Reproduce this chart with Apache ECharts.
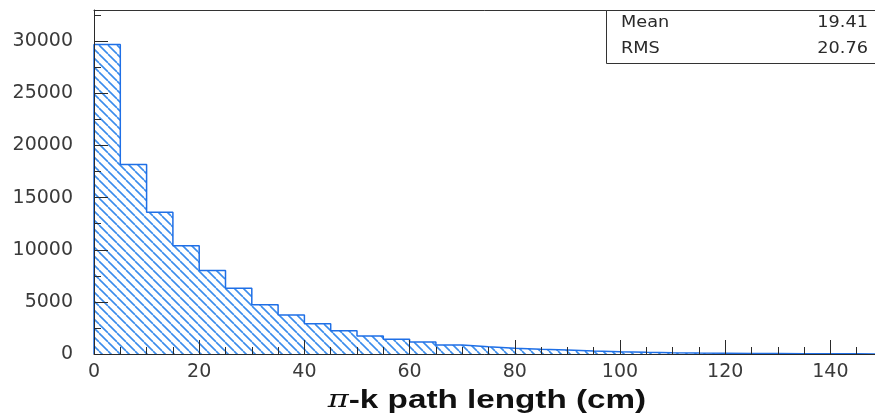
<!DOCTYPE html>
<html>
<head>
<meta charset="utf-8">
<script src="https://cdn.jsdelivr.net/npm/echarts@6/dist/echarts.min.js"></script>
<style>
  html, body { margin: 0; padding: 0; background: #fff; }
  #chart { width: 875px; height: 418px; }
</style>
</head>
<body>
<div id="chart"></div>
<script>
// Histogram of pi-k path length, 5 cm bins starting at 0
const binWidth = 5;
const binCounts = [
  29700, 18170, 13590, 10390, 8010, 6310, 4720, 3750, 2890, 2240,
  1730, 1410, 1150, 870, 700, 550, 450, 380, 290, 220,
  160, 120, 90, 70, 50, 40, 30, 20, 15, 10
];
const xTicks = [0, 20, 40, 60, 80, 100, 120, 140];
const yTicks = [0, 5000, 10000, 15000, 20000, 25000, 30000];
const statLabels = ['Mean', 'RMS'];
const statValues = ['19.41', '20.76'];
const xTitle = '-k path length (cm)';

const xMax = 150;
const yMax = 33000;

// Step outline points: rise at 0, then one point per bin edge
const stepPoints = [[0, 0]];
binCounts.forEach((c, i) => stepPoints.push([i * binWidth, c]));
stepPoints.push([binCounts.length * binWidth, binCounts[binCounts.length - 1]]);

// Diagonal hatch tile
function hatchTile() {
  const s = 9;
  const cv = document.createElement('canvas');
  cv.width = s; cv.height = s;
  const ctx = cv.getContext('2d');
  ctx.fillStyle = '#ffffff';
  ctx.fillRect(0, 0, s, s);
  ctx.strokeStyle = '#3a8cec';
  ctx.lineWidth = 1.6;
  for (let k = -1; k <= 1; k++) {
    ctx.beginPath();
    ctx.moveTo(k * s, 0);
    ctx.lineTo(k * s + s, s);
    ctx.stroke();
  }
  return cv;
}

const tickColor = '#2a2a2a';
const labelFont = 'DejaVu Sans';

const chart = echarts.init(document.getElementById('chart'), null, { renderer: 'canvas' });

chart.setOption({
  animation: false,
  backgroundColor: '#ffffff',
  grid: { left: 94, top: 10, right: -8, bottom: 64, containLabel: false, outerBoundsMode: 'none' },
  xAxis: [
    {
      type: 'value', min: 0, max: xMax, interval: 20, z: 5,
      axisLine: { show: true, lineStyle: { color: tickColor, width: 1 } },
      axisTick: { show: true, inside: true, length: 14, lineStyle: { color: tickColor } },
      splitLine: { show: false },
      axisLabel: {
        show: true, margin: 9, showMaxLabel: false,
        color: '#3a3a3a', fontFamily: labelFont, fontSize: 19,
        formatter: v => (xTicks.indexOf(v) >= 0 ? String(v) : '')
      }
    },
    {
      // minor ticks every bin width
      type: 'value', min: 0, max: xMax, interval: binWidth, position: 'bottom', z: 5,
      axisLine: { show: false },
      axisTick: { show: true, inside: true, length: 7, lineStyle: { color: tickColor } },
      axisLabel: { show: false }, splitLine: { show: false }
    },
    {
      // top frame
      type: 'value', min: 0, max: xMax, position: 'top', z: 5,
      axisLine: { show: true, lineStyle: { color: '#333', width: 1 } },
      axisTick: { show: false }, axisLabel: { show: false }, splitLine: { show: false }
    }
  ],
  yAxis: [
    {
      type: 'value', min: 0, max: yMax, interval: 5000, z: 5,
      axisLine: { show: true, lineStyle: { color: tickColor, width: 1 } },
      axisTick: { show: true, inside: true, length: 14, lineStyle: { color: tickColor } },
      splitLine: { show: false },
      axisLabel: {
        show: true, margin: 21, showMaxLabel: false,
        color: '#3a3a3a', fontFamily: labelFont, fontSize: 19,
        formatter: v => (yTicks.indexOf(v) >= 0 ? String(v) : '')
      }
    },
    {
      type: 'value', min: 0, max: yMax, interval: 2500, position: 'left', z: 5,
      axisLine: { show: false },
      axisTick: { show: true, inside: true, length: 7, lineStyle: { color: tickColor } },
      axisLabel: { show: false }, splitLine: { show: false }
    }
  ],
  series: [
    {
      type: 'line',
      xAxisIndex: 0, yAxisIndex: 0,
      step: 'end',
      symbol: 'none',
      data: stepPoints,
      lineStyle: { color: '#1f6fe6', width: 1.5 },
      areaStyle: { color: { image: hatchTile(), repeat: 'repeat' }, opacity: 1 },
      z: 1
    }
  ],
  graphic: [
    {
      type: 'text', z: 100, x: 487, y: 401, scaleX: 1.33,
      style: {
        text: '{pi|π}{b|' + xTitle + '}',
        textAlign: 'center', textVerticalAlign: 'middle',
        rich: {
          pi: { fontFamily: 'DejaVu Serif', fontStyle: 'italic', fontSize: 24, fill: '#111' },
          b: { fontFamily: 'Liberation Sans', fontWeight: 'bold', fontSize: 25, fill: '#111' }
        }
      }
    },
    {
      type: 'rect', z: 100,
      shape: { x: 606.5, y: 10.5, width: 280, height: 53 },
      style: { fill: '#ffffff', stroke: '#333', lineWidth: 1 }
    },
    ...statLabels.map((t, i) => ({
      type: 'text', z: 101, x: 621, y: 23 + i * 26, scaleX: 1.18,
      style: { text: t, fill: '#2a2a2a', font: '15px "DejaVu Sans"', textVerticalAlign: 'middle' }
    })),
    ...statValues.map((t, i) => ({
      type: 'text', z: 101, x: 868, y: 23 + i * 26, scaleX: 1.18,
      style: { text: t, fill: '#2a2a2a', font: '15px "DejaVu Sans"', textAlign: 'right', textVerticalAlign: 'middle' }
    }))
  ]
});
</script>
</body>
</html>
